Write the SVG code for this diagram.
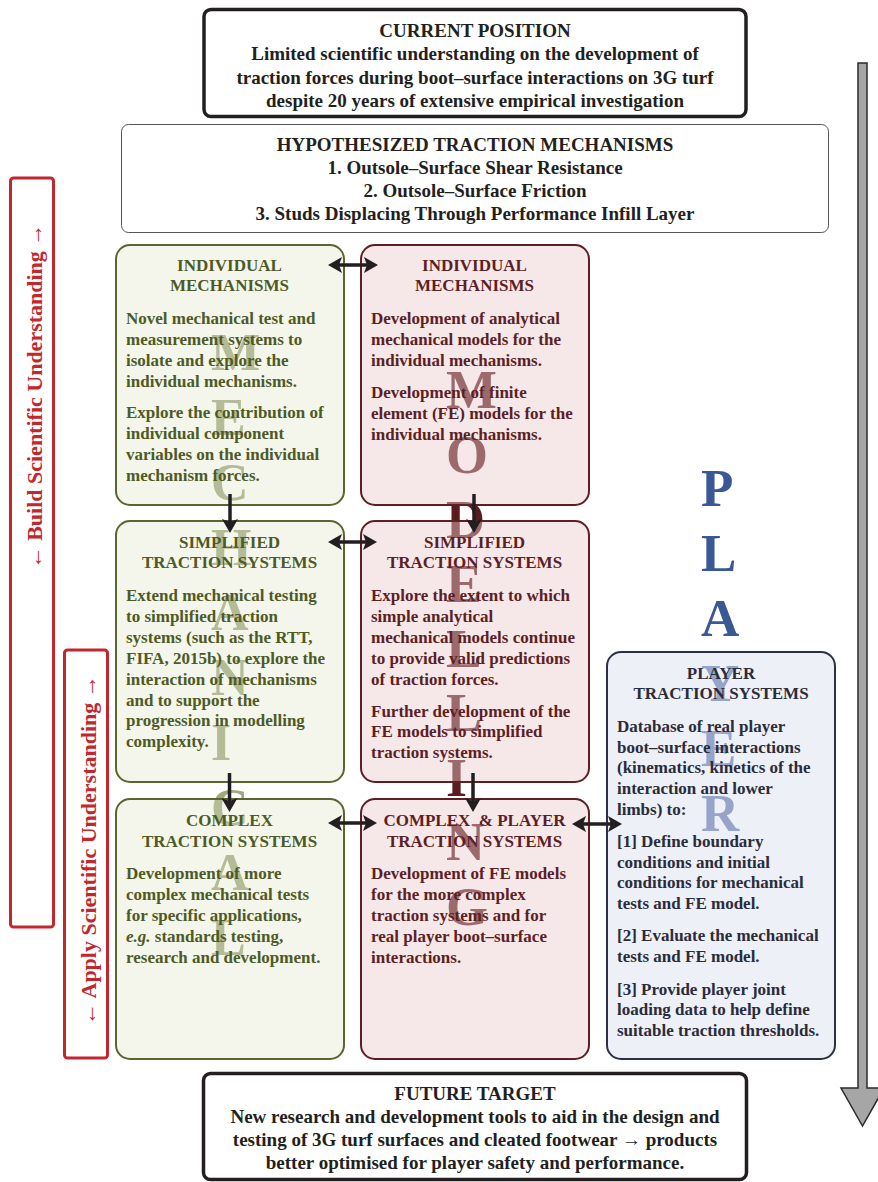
<svg xmlns="http://www.w3.org/2000/svg" width="878" height="1182" viewBox="0 0 878 1182">
<style>
.sf{font-family:"Liberation Serif","Times New Roman",serif;font-weight:bold}
.top{font-size:19px;fill:#231f20;text-anchor:middle}
.red{font-size:22px;fill:#c1272d;text-anchor:middle}
.t{font-size:17px}
.c{text-anchor:middle}
.g{fill:#4e5a25}
.p{fill:#5c1f24}
.b{fill:#2a2c3a}
.wg{font-size:52px;fill:#a0a882}
.wp{font-size:54px;fill:#5b1c20}
.wb{font-size:53px;fill:#3a5796}
.gbox{fill:#dde5c3;fill-opacity:0.33;stroke:#5a6530;stroke-width:2}
.pbox{fill:#ebcacc;fill-opacity:0.45;stroke:#5e1f24;stroke-width:2}
.bbox{fill:#e0e4f2;fill-opacity:0.55;stroke:#2d3045;stroke-width:2}
.conn{stroke:#231f20;stroke-width:3.5;fill:none}
</style>
<defs>
<marker id="ah" viewBox="0 0 14 16" refX="3" refY="8" markerWidth="14" markerHeight="16" markerUnits="userSpaceOnUse" orient="auto-start-reverse">
<path d="M0,0 L14,8 L0,16 L3,8 Z" fill="#231f20"/>
</marker>
</defs>
<rect width="878" height="1182" fill="#ffffff"/>

<g id="build-bar">
<rect x="10.5" y="178" width="43" height="749" rx="3" fill="none" stroke="#c1272d" stroke-width="3"/>
<text class="sf red" transform="translate(42,396) rotate(-90)">← Build Scientific Understanding →</text>
</g>
<g id="apply-bar">
<rect x="64.5" y="650" width="43" height="408" rx="3" fill="none" stroke="#c1272d" stroke-width="3"/>
<text class="sf red" transform="translate(96,850) rotate(-90)">← Apply Scientific Understanding →</text>
</g>

<g id="progress-arrow">
<path d="M858,63 H867 V1088 H884 L862.5,1126 L841,1088 H858 Z" fill="#a6a6a6" stroke="#2b2b2b" stroke-width="1.5" stroke-linejoin="miter"/>
</g>

<g id="current-position">
<rect x="204" y="9.5" width="542" height="107" rx="7" fill="#ffffff" stroke="#231f20" stroke-width="3.5"/>
<text class="sf top"><tspan x="475" y="36.5">CURRENT POSITION</tspan><tspan x="475" y="59.5">Limited scientific understanding on the development of</tspan><tspan x="475" y="83.5">traction forces during boot–surface interactions on 3G turf</tspan><tspan x="475" y="106.5">despite 20 years of extensive empirical investigation</tspan></text>
</g>

<g id="hypothesized">
<rect x="121.5" y="124.5" width="707" height="108" rx="7" fill="#ffffff" stroke="#555555" stroke-width="1"/>
<text class="sf top"><tspan x="475" y="151">HYPOTHESIZED TRACTION MECHANISMS</tspan><tspan x="475" y="174">1. Outsole–Surface Shear Resistance</tspan><tspan x="475" y="197">2. Outsole–Surface Friction</tspan><tspan x="475" y="220">3. Studs Displacing Through Performance Infill Layer</tspan></text>
</g>

<g id="watermarks">
<g class="sf wg">
<text x="211" y="370">M</text><text x="211" y="435">E</text><text x="211" y="500">C</text><text x="211" y="565">H</text><text x="211" y="630">A</text><text x="211" y="695">N</text><text x="211" y="760">I</text><text x="211" y="825">C</text><text x="211" y="890">A</text><text x="211" y="955">L</text>
</g>
<g class="sf wp">
<text x="446" y="408">M</text><text x="446" y="473">O</text><text x="446" y="538">D</text><text x="446" y="602">E</text><text x="446" y="667">L</text><text x="446" y="731">L</text><text x="446" y="796">I</text><text x="446" y="860">N</text><text x="446" y="925">G</text>
</g>
<g class="sf wb">
<text x="701" y="506">P</text><text x="701" y="571">L</text><text x="701" y="636">A</text><text x="701" y="701">Y</text><text x="701" y="766">E</text><text x="701" y="831">R</text>
</g>
</g>

<g id="mech-individual">
<rect class="gbox" x="116" y="245" width="228" height="260" rx="14"/>
<text class="sf t g c"><tspan x="229.5" y="271">INDIVIDUAL</tspan><tspan x="229.5" y="291">MECHANISMS</tspan></text>
<text class="sf t g"><tspan x="126" y="324">Novel mechanical test and</tspan><tspan x="126" y="345">measurement systems to</tspan><tspan x="126" y="366">isolate and explore the</tspan><tspan x="126" y="386.5">individual mechanisms.</tspan><tspan x="126" y="418">Explore the contribution of</tspan><tspan x="126" y="439">individual component</tspan><tspan x="126" y="460">variables on the individual</tspan><tspan x="126" y="481">mechanism forces.</tspan></text>
</g>

<g id="model-individual">
<rect class="pbox" x="361" y="245" width="228" height="260" rx="14"/>
<text class="sf t p c"><tspan x="474.5" y="271">INDIVIDUAL</tspan><tspan x="474.5" y="291">MECHANISMS</tspan></text>
<text class="sf t p"><tspan x="371" y="324">Development of analytical</tspan><tspan x="371" y="345">mechanical models for the</tspan><tspan x="371" y="366">individual mechanisms.</tspan><tspan x="371" y="398">Development of finite</tspan><tspan x="371" y="419">element (FE) models for the</tspan><tspan x="371" y="440">individual mechanisms.</tspan></text>
</g>

<g id="mech-simplified">
<rect class="gbox" x="116" y="521" width="228" height="261" rx="14"/>
<text class="sf t g c"><tspan x="229.5" y="547.5">SIMPLIFIED</tspan><tspan x="229.5" y="568">TRACTION SYSTEMS</tspan></text>
<text class="sf t g"><tspan x="126" y="601">Extend mechanical testing</tspan><tspan x="126" y="622">to simplified traction</tspan><tspan x="126" y="643">systems (such as the RTT,</tspan><tspan x="126" y="664">FIFA, 2015b) to explore the</tspan><tspan x="126" y="684.5">interaction of mechanisms</tspan><tspan x="126" y="705.5">and to support the</tspan><tspan x="126" y="726">progression in modelling</tspan><tspan x="126" y="747">complexity.</tspan></text>
</g>

<g id="model-simplified">
<rect class="pbox" x="361" y="521" width="228" height="261" rx="14"/>
<text class="sf t p c"><tspan x="474.5" y="547.5">SIMPLIFIED</tspan><tspan x="474.5" y="568">TRACTION SYSTEMS</tspan></text>
<text class="sf t p"><tspan x="371" y="601">Explore the extent to which</tspan><tspan x="371" y="622">simple analytical</tspan><tspan x="371" y="643">mechanical models continue</tspan><tspan x="371" y="664">to provide valid predictions</tspan><tspan x="371" y="684.5">of traction forces.</tspan><tspan x="371" y="716.5">Further development of the</tspan><tspan x="371" y="737">FE models to simplified</tspan><tspan x="371" y="758">traction systems.</tspan></text>
</g>

<g id="mech-complex">
<rect class="gbox" x="116" y="799" width="228" height="260" rx="14"/>
<text class="sf t g c"><tspan x="229.5" y="826">COMPLEX</tspan><tspan x="229.5" y="846.5">TRACTION SYSTEMS</tspan></text>
<text class="sf t g"><tspan x="126" y="879">Development of more</tspan><tspan x="126" y="900">complex mechanical tests</tspan><tspan x="126" y="921">for specific applications,</tspan><tspan x="126" y="941.5"><tspan font-style="italic">e.g.</tspan> standards testing,</tspan><tspan x="126" y="962.5">research and development.</tspan></text>
</g>

<g id="model-complex-player">
<rect class="pbox" x="361" y="799" width="228" height="260" rx="14"/>
<text class="sf t p c" xml:space="preserve"><tspan x="474.5" y="826">COMPLEX  &amp; PLAYER</tspan><tspan x="474.5" y="846.5">TRACTION SYSTEMS</tspan></text>
<text class="sf t p"><tspan x="371" y="879">Development of FE models</tspan><tspan x="371" y="900">for the more complex</tspan><tspan x="371" y="921">traction systems and for</tspan><tspan x="371" y="941.5">real player boot–surface</tspan><tspan x="371" y="962.5">interactions.</tspan></text>
</g>

<g id="player-traction">
<rect class="bbox" x="607" y="652" width="228" height="407" rx="14"/>
<text class="sf t b c"><tspan x="721" y="678.5">PLAYER</tspan><tspan x="721" y="698.5">TRACTION SYSTEMS</tspan></text>
<text class="sf t b"><tspan x="617" y="731.5">Database of real player</tspan><tspan x="617" y="752.5">boot–surface interactions</tspan><tspan x="617" y="773">(kinematics, kinetics of the</tspan><tspan x="617" y="794">interaction and lower</tspan><tspan x="617" y="815">limbs) to:</tspan><tspan x="617" y="846.5">[1] Define boundary</tspan><tspan x="617" y="867.5">conditions and initial</tspan><tspan x="617" y="888">conditions for mechanical</tspan><tspan x="617" y="908.5">tests and FE model.</tspan><tspan x="617" y="941">[2] Evaluate the mechanical</tspan><tspan x="617" y="962">tests and FE model.</tspan><tspan x="617" y="994.5">[3] Provide player joint</tspan><tspan x="617" y="1015">loading data to help define</tspan><tspan x="617" y="1036">suitable traction thresholds.</tspan></text>
</g>

<g id="future-target">
<rect x="203.5" y="1073.5" width="543" height="106" rx="7" fill="#ffffff" stroke="#231f20" stroke-width="3.5"/>
<text class="sf top"><tspan x="475" y="1100">FUTURE TARGET</tspan><tspan x="475" y="1122.5">New research and development tools to aid in the design and</tspan><tspan x="475" y="1146">testing of 3G turf surfaces and cleated footwear → products</tspan><tspan x="475" y="1169">better optimised for player safety and performance.</tspan></text>
</g>

<g id="connectors">
<line class="conn" x1="339" y1="265" x2="367" y2="265" marker-start="url(#ah)" marker-end="url(#ah)"/>
<line class="conn" x1="339" y1="542" x2="366" y2="542" marker-start="url(#ah)" marker-end="url(#ah)"/>
<line class="conn" x1="339" y1="823" x2="366" y2="823" marker-start="url(#ah)" marker-end="url(#ah)"/>
<line class="conn" x1="583" y1="824" x2="611" y2="824" marker-start="url(#ah)" marker-end="url(#ah)"/>
<line class="conn" x1="230" y1="494" x2="230" y2="522" marker-end="url(#ah)"/>
<line class="conn" x1="474" y1="494" x2="474" y2="522" marker-end="url(#ah)"/>
<line class="conn" x1="229.5" y1="773" x2="229.5" y2="801" marker-end="url(#ah)"/>
<line class="conn" x1="473" y1="773" x2="473" y2="801" marker-end="url(#ah)"/>
</g>
</svg>
